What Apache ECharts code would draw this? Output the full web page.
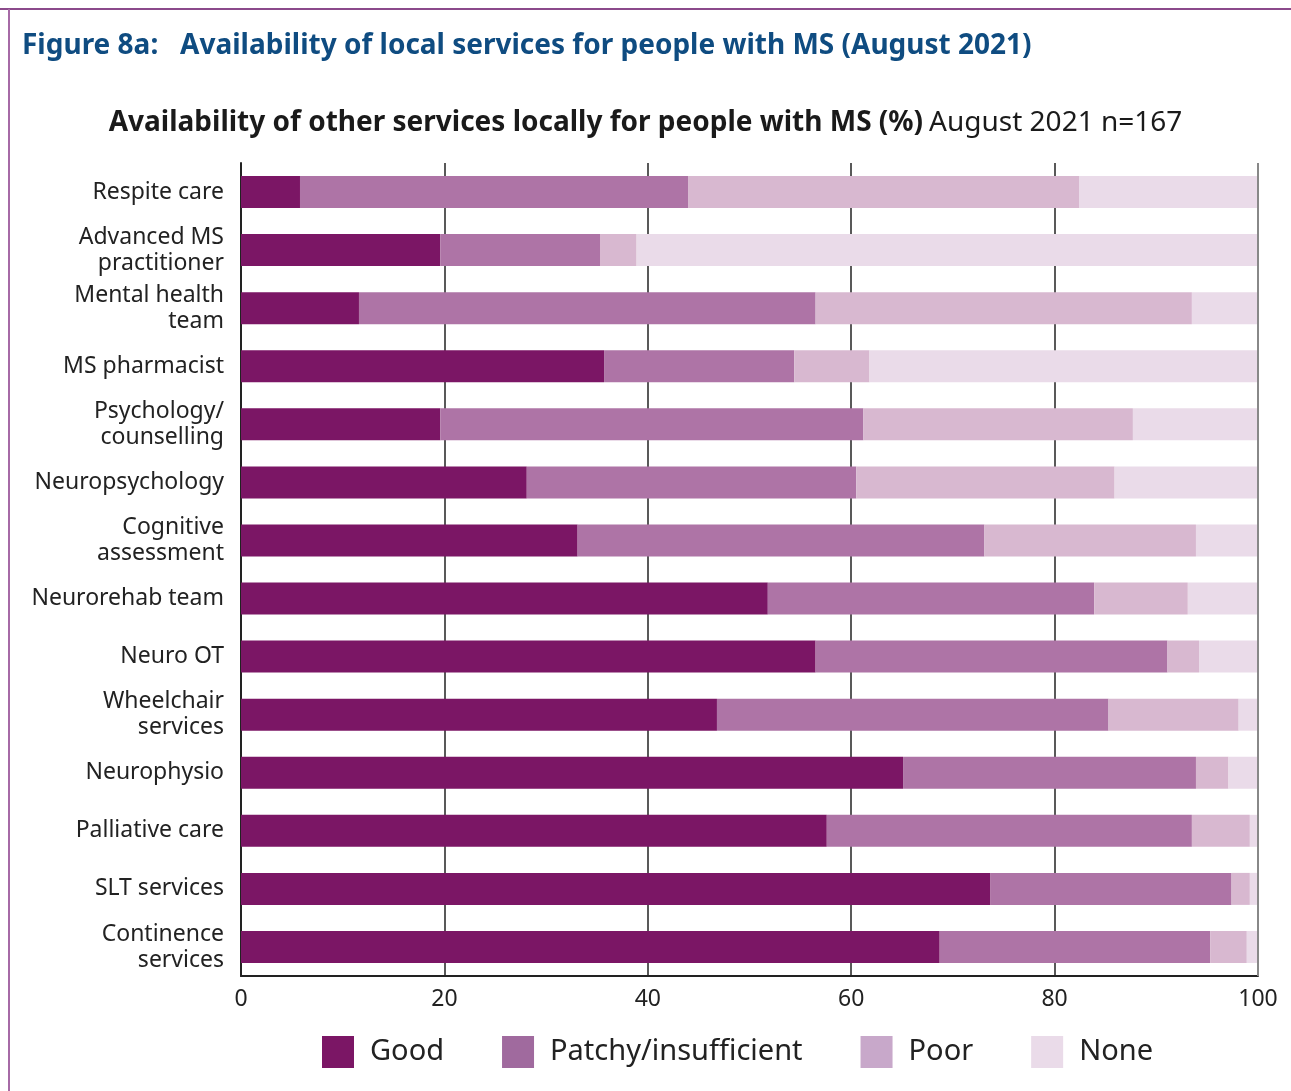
<!DOCTYPE html>
<html><head><meta charset="utf-8">
<script src="https://cdn.jsdelivr.net/npm/echarts@6/dist/echarts.min.js"></script>
<style>html,body{margin:0;padding:0;background:#fff}#c{width:1291px;height:1091px}</style>
</head><body><div id="c"></div>
<script>
const categories = ["Respite care","Advanced MS\npractitioner","Mental health\nteam","MS pharmacist","Psychology/\ncounselling","Neuropsychology","Cognitive\nassessment","Neurorehab team","Neuro OT","Wheelchair\nservices","Neurophysio","Palliative care","SLT services","Continence\nservices"];
const good    = [5.8, 19.6, 11.6, 35.7, 19.6, 28.1, 33.1, 51.8, 56.5, 46.8, 65.1, 57.6, 73.7, 68.7];
const patchy  = [38.2, 15.7, 44.9, 18.7, 41.6, 32.4, 40.0, 32.1, 34.6, 38.5, 28.8, 35.9, 23.7, 26.6];
const poor    = [38.4, 3.6, 37.0, 7.4, 26.5, 25.4, 20.8, 9.2, 3.1, 12.8, 3.2, 5.7, 1.8, 3.6];
const none    = [17.6, 61.1, 6.5, 38.2, 12.3, 14.1, 6.1, 6.9, 5.8, 1.9, 2.9, 0.8, 0.8, 1.0];
const seriesNames = ["Good","Patchy/insufficient","Poor","None"];
const xTicks = [0,20,40,60,80,100];

const colors = ["#7B1665","#AE74A6","#D8B8D0","#EADBE9"];
const legendColors = ["#7B1665","#A06A9E","#C8A8CA","#EADBE9"];
const FONT = "Noto Sans";
const chart = echarts.init(document.getElementById('c'), null, {renderer:'canvas'});
const dataSets = [good, patchy, poor, none];
chart.setOption({
  animation:false,
  textStyle:{fontFamily:FONT},
  grid:{left:241, right:33, top:163, bottom:115, containLabel:false},
  xAxis:{type:'value', min:0, max:100, interval:20,
    axisLine:{show:true, lineStyle:{color:'#222', width:2}},
    axisTick:{show:false},
    axisLabel:{fontSize:23, color:'#222', margin:12, fontFamily:FONT},
    splitLine:{show:true, lineStyle:{color:'#222', width:1.5}}},
  yAxis:{type:'category', data:categories, inverse:true,
    axisLine:{show:true, lineStyle:{color:'#222', width:2}},
    axisTick:{show:false},
    axisLabel:{fontSize:23, color:'#222', margin:17, lineHeight:26, align:'right', fontFamily:FONT}},
  legend:{bottom:18, left:317, itemWidth:32, itemHeight:32, itemGap:58,
    textStyle:{fontSize:29, color:'#222', fontFamily:FONT, padding:[0,0,0,11]},
    data: seriesNames.map((n,i)=>({name:n, itemStyle:{color:legendColors[i]}, icon:'rect'}))},
  series: seriesNames.map((n,i)=>({
    name:n, type:'bar', stack:'total', barWidth:32,
    itemStyle:{color:colors[i]}, data:dataSets[i]
  })),
  graphic:[
    {type:'line', shape:{x1:0,y1:9,x2:1291,y2:9}, style:{stroke:'#8B4A8B', lineWidth:2}},
    {type:'line', shape:{x1:9,y1:9,x2:9,y2:1091}, style:{stroke:'#A66AA6', lineWidth:2}},
    {type:'line', shape:{x1:1258,y1:163,x2:1258,y2:976}, style:{stroke:'#888', lineWidth:2}, z:10},
    {type:'text', left:22, top:32, style:{text:'Figure 8a:   Availability of local services for people with MS (August 2021)', fontSize:28, fontWeight:'bold', fill:'#0F4C81', fontFamily:FONT}},
    {type:'text', left:'center', top:109, style:{rich:{b:{fontSize:28, fontWeight:'bold', fill:'#1a1a1a', fontFamily:FONT}, n:{fontSize:28, fill:'#1a1a1a', fontFamily:FONT, padding:[0,0,0,6]}}, text:'{b|Availability of other services locally for people with MS (%)}{n|August 2021 n=167}'}}
  ]
});
</script></body></html>
